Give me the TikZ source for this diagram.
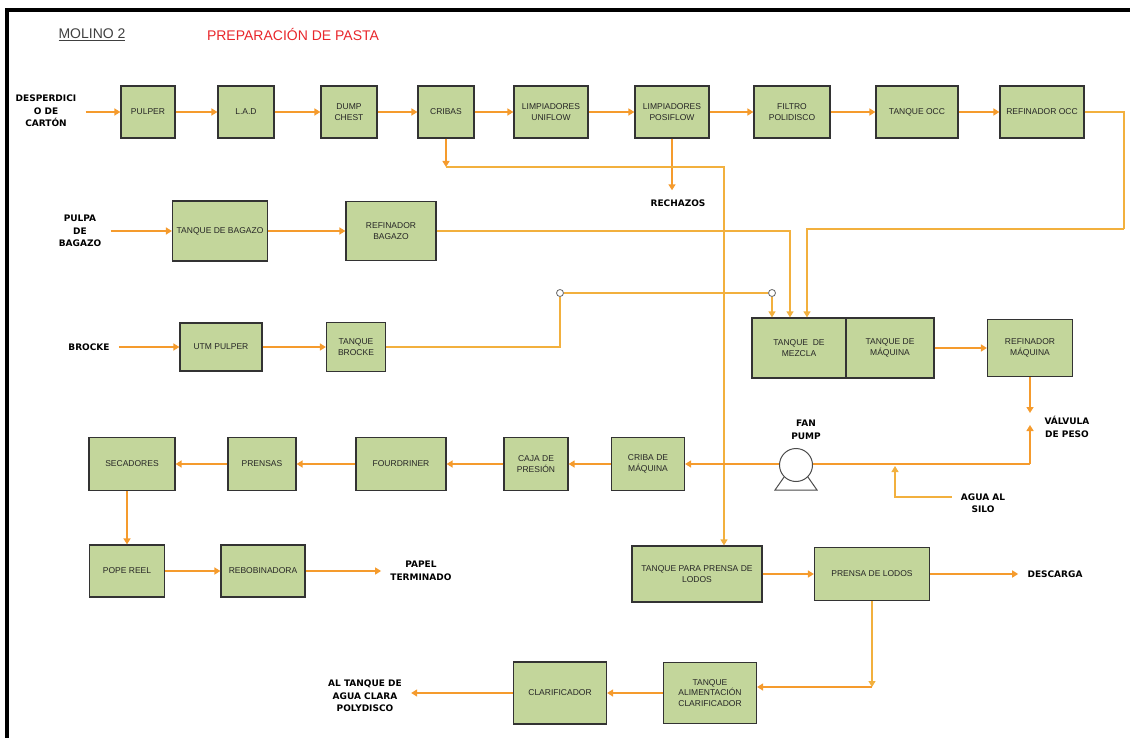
\documentclass[tikz,border=0pt]{standalone}
\usepackage{fontspec}
\setmainfont{Liberation Sans}
\newfontfamily\lblfont{DejaVu Sans}
\usetikzlibrary{arrows.meta}
\definecolor{boxgreen}{HTML}{C3D69B}
\definecolor{flowor}{HTML}{F59B2D}
\definecolor{pipeor}{HTML}{F2B03E}
\definecolor{titlered}{HTML}{E8262B}

\begin{document}
\begin{tikzpicture}[
	x=1pt,
	y=-1pt,
	>={Triangle[length=6pt,width=7pt]},
	box/.style 2 args={draw=black!80,fill=boxgreen,line width=1.2pt,minimum width=#1,minimum height=#2,inner sep=1pt,align=center,font=\fontsize{8.5}{10.5}\selectfont,text=black!85},
	lbl/.style={align=center,font=\lblfont\bfseries\fontsize{9}{12.5}\selectfont,outer sep=6pt},
	arr/.style={->,draw=flowor,line width=1.7pt},
	pipe/.style={draw=pipeor,line width=1.2pt},
	tap/.style={circle,draw=black!60,fill=white,line width=0.8pt,minimum size=7pt,inner sep=0pt},
	pump/.style={circle,draw=black!70,fill=white,line width=1pt,minimum size=33pt}
	]
	\useasboundingbox (0,0) rectangle (1130,738);
	\draw[line width=3.5pt] (1130,10) -- (7,10) -- (7,740);
	\node[font=\fontsize{14}{16}\selectfont,text=black!75] (Molino) at (92,35) {\underline{MOLINO 2}};
	\node[font=\fontsize{14}{16}\selectfont,text=titlered] (Titulo) at (293,35) {PREPARACIÓN DE PASTA};

	\node[lbl] (Desperdicio) at (46,111) {DESPERDICI\\O DE\\CARTÓN};
	\node[box={54pt}{52pt}] (Pulper) at (148,112) {PULPER};
	\node[box={56pt}{52pt}] (LAD) at (246,112) {L.A.D};
	\node[box={56pt}{52pt}] (Dump) at (349,112) {DUMP\\CHEST};
	\node[box={56pt}{52pt}] (Cribas) at (446,112) {CRIBAS};
	\node[box={74pt}{52pt}] (Uniflow) at (551,112) {LIMPIADORES\\UNIFLOW};
	\node[box={74pt}{52pt}] (Posiflow) at (672,112) {LIMPIADORES\\POSIFLOW};
	\node[box={76pt}{52pt}] (Filtro) at (792,112) {FILTRO\\POLIDISCO};
	\node[box={82pt}{52pt}] (TanqueOCC) at (917,112) {TANQUE OCC};
	\node[box={84pt}{52pt}] (RefOCC) at (1042,112) {REFINADOR OCC};
	\node[lbl] (Rechazos) at (678,203) {RECHAZOS};

	\node[lbl] (Pulpa) at (80,231) {PULPA\\DE\\BAGAZO};
	\node[box={95pt}{60pt}] (TanqueBagazo) at (220,231) {TANQUE DE BAGAZO};
	\node[box={90pt}{59pt}] (RefBagazo) at (391,231) {REFINADOR\\BAGAZO};

	\node[lbl] (Brocke) at (89,347) {BROCKE};
	\node[box={82pt}{48pt}] (UTM) at (221,347) {UTM PULPER};
	\node[box={59pt}{49pt}] (TanqueBrocke) at (356,347) {TANQUE\\BROCKE};
	\node[tap] (TapA) at (560,293) {};
	\node[tap] (TapB) at (772,293) {};

	\node[box={94pt}{60pt}] (Mezcla) at (799,348) {TANQUE~~DE\\MEZCLA};
	\node[box={88pt}{60pt}] (Maquina) at (890,348) {TANQUE DE\\MÁQUINA};
	\node[box={85pt}{57pt}] (RefMaq) at (1030,348) {REFINADOR\\MÁQUINA};
	\node[lbl] (Valvula) at (1067,427) {VÁLVULA\\DE PESO};
	\node[lbl] (FanPump) at (806,430) {FAN\\PUMP};
	\node[lbl] (Agua) at (983,503) {AGUA AL\\SILO};

	\node[box={86pt}{53pt}] (Secadores) at (132,464) {SECADORES};
	\node[box={68pt}{53pt}] (Prensas) at (262,464) {PRENSAS};
	\node[box={90pt}{53pt}] (Fourdriner) at (401,464) {FOURDRINER};
	\node[box={64pt}{53pt}] (Caja) at (536,464) {CAJA DE\\PRESIÓN};
	\node[box={73pt}{53pt}] (CribaMaq) at (648,464) {CRIBA DE\\MÁQUINA};

	\node[box={75pt}{52pt}] (PopeReel) at (127,571) {POPE REEL};
	\node[box={84pt}{52pt}] (Rebob) at (263,571) {REBOBINADORA};
	\node[lbl] (Papel) at (421,571) {PAPEL\\TERMINADO};
	\node[box={130pt}{56pt}] (TanquePrensa) at (697,574) {TANQUE PARA PRENSA DE\\LODOS};
	\node[box={115pt}{53pt}] (PrensaLodos) at (872,574) {PRENSA DE LODOS};
	\node[lbl] (Descarga) at (1055,574) {DESCARGA};

	\node[lbl] (AlTanque) at (365,696) {AL TANQUE DE\\AGUA CLARA\\POLYDISCO};
	\node[box={93pt}{62pt}] (Clarificador) at (560,693) {CLARIFICADOR};
	\node[box={93pt}{61pt}] (TanqueAlim) at (710,693) {TANQUE\\ALIMENTACIÓN\\CLARIFICADOR};

	\coordinate (CribasDrop) at (446,167);
	\coordinate (OCCTurn) at (1124,229);
	\coordinate (ValveIn) at (1030,413);
	\coordinate (ValveOut) at (1030,425);
	\coordinate (MainJoin) at (1030,464);
	\coordinate (SiloJoin) at (895,466);
	\coordinate (LodosDrop) at (872,687);

	\draw[arr] (Desperdicio.east |- Pulper) to (Pulper);
	\draw[arr] (Pulper) to (LAD);
	\draw[arr] (LAD) to (Dump);
	\draw[arr] (Dump) to (Cribas);
	\draw[arr] (Cribas) to (Uniflow);
	\draw[arr] (Uniflow) to (Posiflow);
	\draw[arr] (Posiflow) to (Filtro);
	\draw[arr] (Filtro) to (TanqueOCC);
	\draw[arr] (TanqueOCC) to (RefOCC);
	\draw[arr] (Posiflow) to (Posiflow |- Rechazos.north);
	\draw[arr] (Cribas) to (CribasDrop);
	\draw[pipe,->] (CribasDrop) -| ([xshift=27pt]TanquePrensa.north);
	\draw[pipe] (RefOCC) -| (OCCTurn);
	\draw[pipe,->] (OCCTurn) -| ([xshift=8pt]Mezcla.north);

	\draw[arr] (Pulpa) to (TanqueBagazo);
	\draw[arr] (TanqueBagazo) to (RefBagazo);
	\draw[pipe,->] (RefBagazo) -| ([xshift=-9pt]Mezcla.north);

	\draw[arr] (Brocke) to (UTM);
	\draw[arr] (UTM) to (TanqueBrocke);
	\draw[pipe] (TanqueBrocke) -| (TapA);
	\draw[pipe] (TapA) to (TapB);
	\draw[pipe,->] (TapB) to (TapB |- Mezcla.north);

	\draw[arr] (Maquina) to (RefMaq);
	\draw[arr] (RefMaq) to (ValveIn);
	\draw[arr] (MainJoin) to (ValveOut);
	\draw[arr] (MainJoin) to (MainJoin -| CribaMaq.east);
	\draw[pipe,->] ([yshift=6pt]Agua.west) -| (SiloJoin);
	\draw[line width=1pt,draw=black!70,fill=white] (775,490) -- (796,460) -- (817,490) -- cycle;
	\node[pump] (Pump) at (796,465) {};

	\draw[arr] (CribaMaq) to (Caja);
	\draw[arr] (Caja) to (Fourdriner);
	\draw[arr] (Fourdriner) to (Prensas);
	\draw[arr] (Prensas) to (Secadores);
	\draw[arr] (Secadores.south -| PopeReel.north) to (PopeReel.north);
	\draw[arr] (PopeReel) to (Rebob);
	\draw[arr] (Rebob) to (Papel);

	\draw[arr] (TanquePrensa) to (PrensaLodos);
	\draw[arr] (PrensaLodos) to (Descarga);
	\draw[pipe,->] (PrensaLodos) to (LodosDrop);
	\draw[arr] (LodosDrop) to (LodosDrop -| TanqueAlim.east);
	\draw[arr] (TanqueAlim) to (Clarificador);
	\draw[arr] (Clarificador) to (Clarificador -| AlTanque.east);
\end{tikzpicture}
\end{document}
